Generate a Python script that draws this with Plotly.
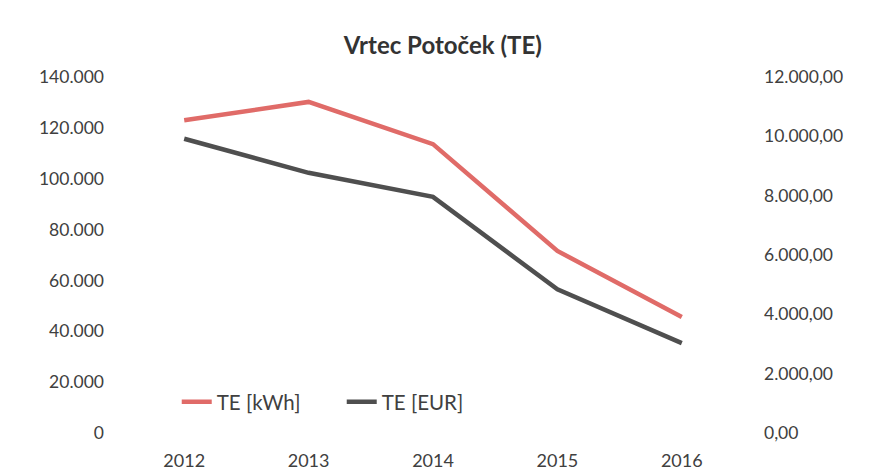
import plotly.graph_objects as go

years = ["2012", "2013", "2014", "2015", "2016"]
te_kwh = [123000, 130200, 113600, 71600, 45600]
te_eur = [9920, 8770, 7960, 4840, 3030]

left_ticks = [0, 20000, 40000, 60000, 80000, 100000, 120000, 140000]
left_labels = ["0", "20.000", "40.000", "60.000", "80.000", "100.000", "120.000", "140.000"]
right_ticks = [0, 2000, 4000, 6000, 8000, 10000, 12000]
right_labels = ["0,00", "2.000,00", "4.000,00", "6.000,00", "8.000,00", "10.000,00", "12.000,00"]

font_family = "Lato, 'Noto Sans', sans-serif"
text_color = "#404040"

fig = go.Figure()
fig.add_trace(go.Scatter(x=years, y=te_kwh, name="TE [kWh]", mode="lines",
                         line=dict(color="#E06B68", width=4.5), yaxis="y"))
fig.add_trace(go.Scatter(x=years, y=te_eur, name="TE [EUR]", mode="lines",
                         line=dict(color="#4F4F4F", width=4.5), yaxis="y2"))

fig.update_layout(
    width=861, height=464,
    margin=dict(l=114, r=125, t=69, b=39, autoexpand=False),
    paper_bgcolor="white", plot_bgcolor="white",
    font=dict(family=font_family, size=17, color=text_color),
    title=dict(text="<b>Vrtec Potoček (TE)</b>", x=0.505, xanchor="center",
               y=0.920, yanchor="middle",
               font=dict(family=font_family, size=24, color="#333333")),
    xaxis=dict(type="category", showgrid=False, zeroline=False, showline=False,
               ticks="", tickfont=dict(size=18), ticklabelstandoff=15,
               range=[-0.5, 4.5], automargin=False),
    yaxis=dict(range=[0, 140000], tickvals=left_ticks, ticktext=left_labels,
               showgrid=False, zeroline=False, showline=False, ticks="",
               tickfont=dict(size=17.5), ticklabelstandoff=17, automargin=False),
    yaxis2=dict(range=[0, 12000], tickvals=right_ticks, ticktext=right_labels,
                overlaying="y", side="right", showgrid=False, zeroline=False,
                showline=False, ticks="", tickfont=dict(size=17.5),
                ticklabelstandoff=19, automargin=False),
    legend=dict(orientation="h", x=0.088, y=0.087, xanchor="left", yanchor="middle",
                bgcolor="rgba(0,0,0,0)", font=dict(size=20.5, color=text_color),
                entrywidth=120, entrywidthmode="pixels", tracegroupgap=0),
    showlegend=True,
)

fig.write_html("out.html")
